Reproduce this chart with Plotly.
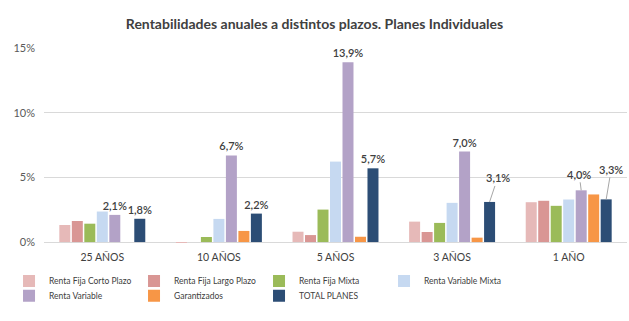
import plotly.graph_objects as go

categories = ["25 AÑOS", "10 AÑOS", "5 AÑOS", "3 AÑOS", "1 AÑO"]
series_names = ["Renta Fija Corto Plazo", "Renta Fija Largo Plazo", "Renta Fija Mixta",
                "Renta Variable Mixta", "Renta Variable", "Garantizados", "TOTAL PLANES"]
rf_corto = [1.32, -0.05, 0.80, 1.58, 3.08]
rf_largo = [1.63, 0.0, 0.54, 0.78, 3.19]
rf_mixta = [1.42, 0.39, 2.51, 1.48, 2.80]
rv_mixta = [2.36, 1.79, 6.22, 3.03, 3.29]
rv = [2.1, 6.7, 13.9, 7.0, 4.0]
garantizados = [None, 0.86, 0.41, 0.34, 3.68]
total = [1.8, 2.2, 5.7, 3.1, 3.3]
y_ticks = [0, 5, 10, 15]
y_tick_labels = ["0%", "5%", "10%", "15%"]

values = [rf_corto, rf_largo, rf_mixta, rv_mixta, rv, garantizados, total]
colors = ["#E6B9B8", "#D99694", "#9BBB59", "#C6D9F1", "#B3A2C7", "#F79646", "#2C4D75"]
labelled = {"Renta Variable", "TOTAL PLANES"}
# labels drawn with leader lines: (series, category) -> (dx, dy) offset in px
leader = {("Renta Variable", "1 AÑO"): (-2, -16),
          ("TOTAL PLANES", "3 AÑOS"): (8, -24),
          ("TOTAL PLANES", "1 AÑO"): (5, -30)}

ML, MR, MT, MB = 44, 2, 48, 77
W, H = 629, 321
BARGAP = 0.25
plot_w = W - ML - MR
slot = plot_w / len(categories) * (1 - BARGAP) / len(series_names)
label_font = dict(size=11, color="#404040", family="Lato", weight=600)

def fmt(v):
    return f"{v:.1f}%".replace(".", ",")

fig = go.Figure()
annotations = []
for i, (name, vals, col) in enumerate(zip(series_names, values, colors)):
    kw = {}
    if name in labelled:
        texts = []
        for c, v in zip(categories, vals):
            if (name, c) in leader:
                texts.append("")
                dx, dy = leader[(name, c)]
                annotations.append(dict(
                    x=c, y=v, xref="x", yref="y", text=fmt(v),
                    xshift=(i - (len(series_names) - 1) / 2) * slot,
                    showarrow=True, arrowhead=0, arrowwidth=1, arrowcolor="#A6A6A6",
                    ax=dx, ay=dy, standoff=0, font=label_font))
            else:
                texts.append(fmt(v))
        kw = dict(text=texts, texttemplate="%{text}", textposition="outside",
                  textfont=label_font, cliponaxis=False, constraintext="none")
    fig.add_trace(go.Bar(name=name, x=categories, y=vals, marker_color=col,
                         marker_line_width=0, legend="legend" if i < 4 else "legend2",
                         **kw))

legend_common = dict(orientation="h", x=-0.06, xanchor="left", yanchor="top",
                     entrywidth=80, entrywidthmode="pixels", traceorder="normal",
                     font=dict(size=8.5, color="#404040"), itemwidth=30,
                     tracegroupgap=0, bgcolor="rgba(0,0,0,0)")

fig.update_layout(
    width=W, height=H,
    margin=dict(l=ML, r=MR, t=MT, b=MB),
    paper_bgcolor="white", plot_bgcolor="white",
    separators=",.",
    barmode="group", bargap=BARGAP, bargroupgap=0.12,
    font=dict(family="Lato", size=10, color="#595959"),
    title=dict(text="<b>Rentabilidades anuales a distintos plazos. Planes Individuales</b>",
               x=0.5, xanchor="center", y=0.925, yanchor="middle",
               font=dict(size=14, color="#404040", family="Lato")),
    legend=dict(y=-0.115, **legend_common),
    legend2=dict(y=-0.19, **legend_common),
    annotations=annotations,
    showlegend=True,
)
fig.update_yaxes(range=[-0.15, 15], tickvals=y_ticks, ticktext=y_tick_labels,
                 showgrid=True, gridcolor="#D9D9D9", gridwidth=1, zeroline=True,
                 zerolinecolor="#D9D9D9", zerolinewidth=1, showline=False,
                 ticklabelstandoff=8, tickfont=dict(size=11, color="#595959"))
fig.update_xaxes(showline=False, tickfont=dict(size=10.5, color="#404040"), ticks="",
                 ticklabelstandoff=5)

fig.write_html("out.html")
